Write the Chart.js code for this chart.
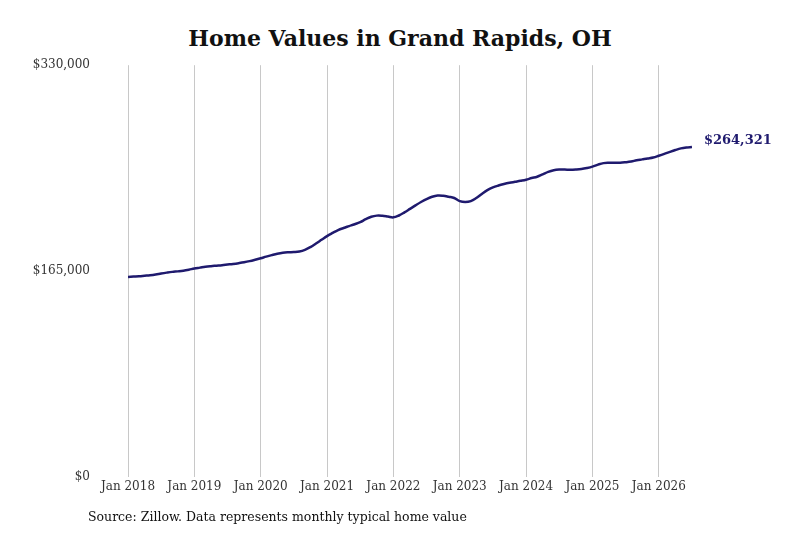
<!DOCTYPE html>
<html lang="en">
<head>
<meta charset="UTF-8">
<title>Home Values in Grand Rapids, OH</title>
<script src="https://cdn.jsdelivr.net/npm/chart.js"></script>
<style>
  body { margin: 0; background: #fff; font-family: "DejaVu Serif", serif; }
  #wrap { position: relative; width: 800px; height: 533px; }
  h1 { position: absolute; top: 25px; left: 0; width: 800px; margin: 0; text-align: center;
       font-size: 22px; font-weight: bold; color: #111; }
  #chartBox { position: absolute; left: 0; top: 28px; width: 800px; height: 486px; }
  .source { position: absolute; left: 88px; top: 509px; font-size: 12.5px; color: #111; margin: 0; }
</style>
</head>
<body>
<div id="wrap">
  <h1>Home Values in Grand Rapids, OH</h1>
  <div id="chartBox"><canvas id="homeChart"></canvas></div>
  <p class="source">Source: Zillow. Data represents monthly typical home value</p>
</div>
<script>
  // monthly typical home value, Jan 2018 .. Jul 2026
  const values = [
    160200,160500,160800,161200,161600,162200,163000,163700,164300,164700,165200,166000,
    167000,167700,168400,168900,169300,169700,170200,170700,171300,172000,172900,174000,
    175200,176500,177700,178800,179600,180000,180200,180700,182000,184200,187000,190000,
    193000,195500,197800,199500,201000,202500,204200,206500,208500,209400,209300,208700,
    208000,209500,212000,214800,217600,220300,222700,224500,225500,225300,224500,223500,
    221000,220300,221000,223500,226800,229800,232000,233500,234700,235700,236500,237300,
    238200,239500,240600,242500,244500,245800,246300,246300,246200,246400,246800,247600,
    248700,250300,251500,251800,251800,251800,252200,252800,253800,254500,255200,256000,
    257400,258900,260500,262000,263300,264000,264321
  ];
  const yearLabels = ['Jan 2018','Jan 2019','Jan 2020','Jan 2021','Jan 2022','Jan 2023','Jan 2024','Jan 2025','Jan 2026'];
  const yTicks = [0, 165000, 330000];
  const endLabel = '$264,321';

  const points = values.map((v, i) => ({ x: i, y: v }));
  const fmt = v => '$' + v.toLocaleString('en-US');

  const endLabelPlugin = {
    id: 'endLabel',
    afterDatasetsDraw(chart) {
      const meta = chart.getDatasetMeta(0);
      const last = meta.data[meta.data.length - 1];
      const ctx = chart.ctx;
      ctx.save();
      ctx.font = 'bold 13px "DejaVu Serif", serif';
      ctx.fillStyle = '#1f1a6e';
      ctx.textBaseline = 'middle';
      ctx.fillText(endLabel, last.x + 12, last.y - 6);
      ctx.restore();
    }
  };

  new Chart(document.getElementById('homeChart'), {
    type: 'line',
    data: { datasets: [{ data: points, borderColor: '#1f1a6e', borderWidth: 2.5,
                         pointRadius: 0, tension: 0.4, fill: false }] },
    options: {
      responsive: true, maintainAspectRatio: false, animation: false,
      layout: { padding: { left: 0, right: 97, top: 2, bottom: 0 } },
      plugins: { legend: { display: false }, tooltip: { enabled: false } },
      scales: {
        x: {
          type: 'linear', min: 0, max: 104,
          afterBuildTicks: axis => { axis.ticks = yearLabels.map((_, i) => ({ value: i * 12 })); },
          ticks: { callback: v => yearLabels[v / 12], color: '#333', maxRotation: 0,
                   font: { family: '"DejaVu Serif", serif', size: 12 } },
          grid: { color: '#c8c8c8', drawTicks: false },
          border: { display: false }
        },
        y: {
          min: 0, max: 330000,
          afterBuildTicks: axis => { axis.ticks = yTicks.map(v => ({ value: v })); },
          afterFit: axis => { axis.width = 128; },
          ticks: { callback: v => fmt(v), color: '#333', padding: 30,
                   font: { family: '"DejaVu Serif", serif', size: 12 } },
          grid: { display: false },
          border: { display: false }
        }
      }
    },
    plugins: [endLabelPlugin]
  });
</script>
</body>
</html>
